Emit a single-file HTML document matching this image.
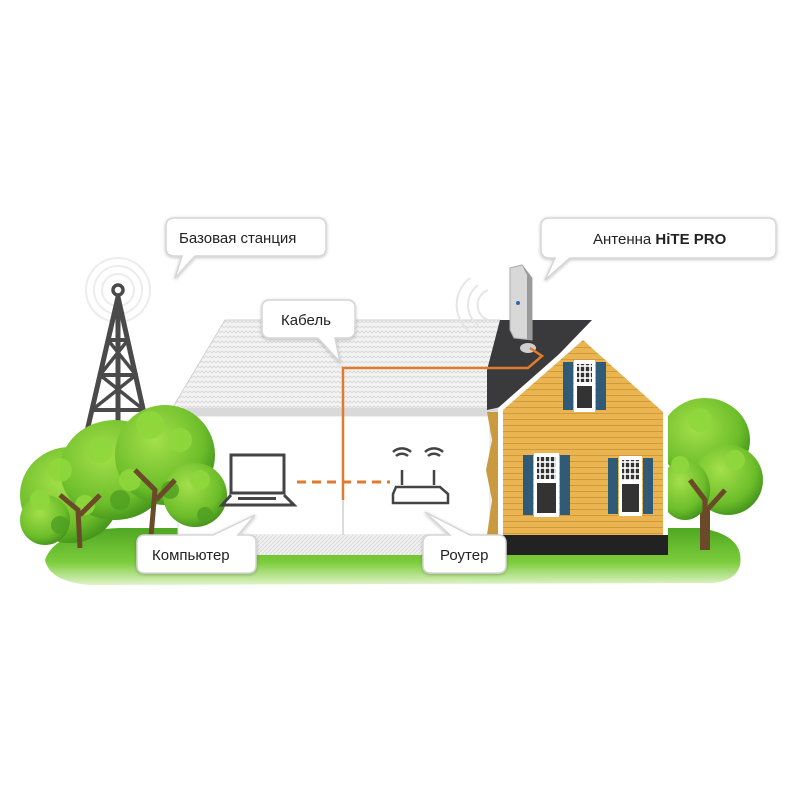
<!DOCTYPE html>
<html><head><meta charset="utf-8"><style>
html,body{margin:0;padding:0;background:#fff;}
svg{display:block;}
text{font-family:"Liberation Sans",sans-serif;}
</style></head><body>
<svg width="800" height="800" viewBox="0 0 800 800" xmlns="http://www.w3.org/2000/svg">
<defs>
<pattern id="zz" width="8" height="5" patternUnits="userSpaceOnUse">
<rect width="8" height="5" fill="#f3f3f3"/>
<path d="M0 3 L2 1 L4 3 L6 1 L8 3" stroke="#d6d6d6" stroke-width="0.8" fill="none"/>
</pattern>
<pattern id="hat" width="4" height="4" patternUnits="userSpaceOnUse">
<rect width="4" height="4" fill="#f0f0f0"/>
<path d="M0 4 L4 0" stroke="#d4d4d4" stroke-width="0.7"/>
</pattern>
<pattern id="sid" width="10" height="6" patternUnits="userSpaceOnUse">
<rect width="10" height="6" fill="#eab550"/>
<line x1="0" y1="5.5" x2="10" y2="5.5" stroke="#c8963a" stroke-width="0.8"/>
</pattern>
<pattern id="pane" width="5" height="6" patternUnits="userSpaceOnUse">
<rect width="5" height="6" fill="#fff"/><rect x="0.8" y="0.8" width="3.4" height="4.4" fill="#333"/>
</pattern>
<radialGradient id="tr" cx="40%" cy="35%" r="70%">
<stop offset="0" stop-color="#a4e04a"/><stop offset="0.7" stop-color="#6cbd2a"/><stop offset="1" stop-color="#3f8f1a"/>
</radialGradient>
<linearGradient id="gr" x1="0" y1="0" x2="0" y2="1">
<stop offset="0" stop-color="#4fa722"/><stop offset="0.6" stop-color="#7ccd3c"/><stop offset="1" stop-color="#dff3c8"/>
</linearGradient>
<filter id="sh"><feDropShadow dx="0" dy="1" stdDeviation="1.5" flood-color="#000" flood-opacity="0.25"/></filter>
</defs>

<!-- grass -->
<path d="M45 560 Q55 530 120 528 L700 528 Q745 535 740 565 Q735 585 700 583 L90 585 Q50 582 45 560Z" fill="url(#gr)"/>

<!-- ghost house -->
<polygon points="170,412 225,320 500,320 500,412" fill="url(#zz)" stroke="#d0d0d0"/>
<rect x="168" y="408" width="330" height="8" fill="#d9d9d9"/>
<rect x="178" y="416" width="312" height="119" fill="#fff" stroke="#dcdcdc"/>
<line x1="343" y1="416" x2="343" y2="535" stroke="#cfcfcf" stroke-width="1.5"/>
<rect x="175" y="535" width="320" height="20" fill="url(#hat)"/>

<!-- tower -->
<g stroke="#ececec" fill="none" stroke-width="2">
<circle cx="118" cy="290" r="16"/><circle cx="118" cy="290" r="24"/><circle cx="118" cy="290" r="32"/>
</g>
<g stroke="#4a4a4a" stroke-width="5" fill="none" stroke-linecap="round">
<circle cx="118" cy="290" r="5" stroke-width="3.5"/>
<line x1="118" y1="297" x2="85" y2="440"/><line x1="118" y1="297" x2="150" y2="440"/>
<line x1="118" y1="297" x2="118" y2="430"/>
<line x1="108" y1="340" x2="128" y2="340" stroke-width="4"/>
<line x1="100" y1="375" x2="136" y2="375" stroke-width="4"/>
<line x1="92" y1="410" x2="144" y2="410" stroke-width="4"/>
<line x1="108" y1="340" x2="136" y2="375" stroke-width="3.5"/><line x1="128" y1="340" x2="100" y2="375" stroke-width="3.5"/>
<line x1="100" y1="375" x2="144" y2="410" stroke-width="3.5"/><line x1="136" y1="375" x2="92" y2="410" stroke-width="3.5"/>
</g>

<!-- left trees -->
<g>
<ellipse cx="70" cy="495" rx="50" ry="48" fill="url(#tr)"/>
<ellipse cx="115" cy="470" rx="55" ry="50" fill="url(#tr)"/>
<ellipse cx="165" cy="455" rx="50" ry="50" fill="url(#tr)"/>
<ellipse cx="195" cy="495" rx="32" ry="32" fill="url(#tr)"/>
<ellipse cx="45" cy="520" rx="25" ry="25" fill="url(#tr)"/>
<g fill="#8fd83c" opacity="0.9">
<circle cx="150" cy="425" r="14"/><circle cx="180" cy="440" r="12"/><circle cx="100" cy="450" r="13"/>
<circle cx="60" cy="470" r="12"/><circle cx="130" cy="480" r="11"/><circle cx="200" cy="480" r="10"/>
<circle cx="40" cy="500" r="10"/><circle cx="85" cy="505" r="10"/>
</g>
<g fill="#4f9f22" opacity="0.8">
<circle cx="120" cy="500" r="10"/><circle cx="170" cy="490" r="9"/><circle cx="60" cy="525" r="9"/><circle cx="205" cy="515" r="8"/>
</g>
<path d="M150 548 L155 490 L135 470 M156 500 L175 480" stroke="#6b4a2a" stroke-width="5" fill="none"/>
<path d="M80 548 L78 510 L60 495 M80 515 L100 495" stroke="#6b4a2a" stroke-width="5" fill="none"/>
</g>

<!-- right tree -->
<g>
<rect x="700" y="470" width="10" height="80" fill="#6b4a2a"/>
<ellipse cx="705" cy="440" rx="45" ry="42" fill="url(#tr)"/>
<ellipse cx="728" cy="480" rx="35" ry="35" fill="url(#tr)"/>
<ellipse cx="685" cy="490" rx="25" ry="30" fill="url(#tr)"/>
<g fill="#8fd83c" opacity="0.9"><circle cx="700" cy="420" r="12"/><circle cx="735" cy="460" r="10"/><circle cx="680" cy="465" r="9"/></g>
<path d="M705 550 L705 500 L690 480 M707 510 L725 490" stroke="#6b4a2a" stroke-width="5" fill="none"/>
</g>

<!-- yellow house -->
<polygon points="487,370 500,320 592,320 510,405 487,410" fill="#3a3a3c"/>
<polygon points="487,412 505,412 505,535 487,535 492,500 486,470 492,440" fill="#c99a40"/>
<polygon points="498,408 583,333 668,410 668,538 498,538" fill="#fff"/>
<polygon points="503,410 583,340 663,412 663,535 503,535" fill="url(#sid)"/>
<rect x="495" y="535" width="173" height="20" fill="#222"/>
<!-- windows -->
<g>
<rect x="563" y="362" width="10" height="48" fill="#2f5a78"/><rect x="596" y="362" width="10" height="48" fill="#2f5a78"/>
<rect x="574" y="360" width="21" height="52" fill="#fff"/>
<rect x="577" y="364" width="15" height="18" fill="url(#pane)"/><rect x="577" y="386" width="15" height="22" fill="#333"/>
<rect x="523" y="455" width="10" height="60" fill="#2f5a78"/><rect x="560" y="455" width="10" height="60" fill="#2f5a78"/>
<rect x="534" y="453" width="25" height="64" fill="#fff"/>
<rect x="537" y="457" width="19" height="22" fill="url(#pane)"/><rect x="537" y="483" width="19" height="30" fill="#333"/>
<rect x="608" y="458" width="10" height="56" fill="#2f5a78"/><rect x="643" y="458" width="10" height="56" fill="#2f5a78"/>
<rect x="619" y="456" width="23" height="60" fill="#fff"/>
<rect x="622" y="460" width="17" height="20" fill="url(#pane)"/><rect x="622" y="484" width="17" height="28" fill="#333"/>
</g>

<!-- antenna -->
<g stroke="#e6e6e6" fill="none" stroke-width="2">
<path d="M478 285 A25 25 0 0 0 478 325"/><path d="M470 278 A34 34 0 0 0 470 332"/><path d="M488 290 A16 16 0 0 0 488 320"/>
</g>
<polygon points="510,268 522,265 532,278 532,340 514,338 510,330" fill="#d8d8d8" stroke="#aaa"/>
<polygon points="522,265 532,278 532,340 527,340 527,275" fill="#9a9a9a"/>
<circle cx="518" cy="303" r="2" fill="#3366aa"/>
<ellipse cx="528" cy="348" rx="8" ry="5" fill="#cfcfcf"/>

<!-- cable -->
<path d="M343 500 L343 368 L528 368 L542 356 L530 348" stroke="#e07a2e" stroke-width="2.5" fill="none"/>
<line x1="297" y1="482" x2="390" y2="482" stroke="#e07a2e" stroke-width="3" stroke-dasharray="9,6"/>

<!-- laptop -->
<g stroke="#444" fill="none" stroke-width="3">
<rect x="231" y="455" width="53" height="38"/>
<path d="M231 495 L222 505 L294 505 L284 495"/>
</g>
<rect x="238" y="497" width="38" height="3" fill="#444"/>
<!-- router -->
<g stroke="#444" fill="none" stroke-width="2.5">
<line x1="402" y1="470" x2="402" y2="485"/><line x1="434" y1="470" x2="434" y2="485"/>
<path d="M396 487 L440 487 L448 494 L448 503 L393 503 L393 494Z"/>
<path d="M396 456 A9 9 0 0 1 408 456"/><path d="M393 452 A13 13 0 0 1 411 452"/>
<path d="M428 456 A9 9 0 0 1 440 456"/><path d="M425 452 A13 13 0 0 1 443 452"/>
</g>

<!-- bubbles -->
<g fill="#fff" stroke="#d5d5d5" stroke-width="1.5" filter="url(#sh)">
<path d="M175 218 H318 Q326 218 326 226 V248 Q326 256 318 256 H195 L175 278 L182 256 H175 Q166 256 166 248 V226 Q166 218 175 218Z"/>
<path d="M550 218 H768 Q776 218 776 226 V250 Q776 258 768 258 H570 L545 280 L555 258 H550 Q541 258 541 250 V226 Q541 218 550 218Z"/>
<path d="M270 300 H347 Q355 300 355 308 V330 Q355 338 347 338 H335 L340 362 L318 338 H270 Q262 338 262 330 V308 Q262 300 270 300Z"/>
<path d="M145 535 H213 L255 515 L238 535 H248 Q256 535 256 543 V565 Q256 573 248 573 H145 Q137 573 137 565 V543 Q137 535 145 535Z"/>
<path d="M431 535 H450 L425 512 L470 535 H498 Q506 535 506 543 V565 Q506 573 498 573 H431 Q423 573 423 565 V543 Q423 535 431 535Z"/>
</g>
<g font-size="15" fill="#222">
<text x="179" y="243">Базовая станция</text>
<text x="593" y="244">Антенна <tspan font-weight="bold">HiTE PRO</tspan></text>
<text x="281" y="325">Кабель</text>
<text x="152" y="560">Компьютер</text>
<text x="440" y="560">Роутер</text>
</g>
</svg>
</body></html>
